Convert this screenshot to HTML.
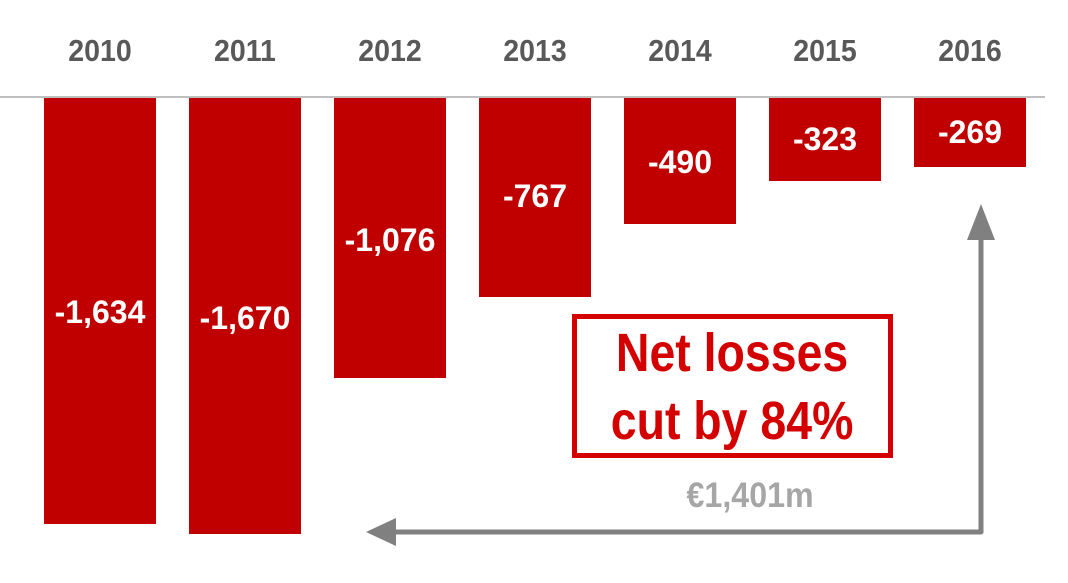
<!DOCTYPE html>
<html><head><meta charset="utf-8"><style>
body{margin:0;width:1068px;height:583px;background:#fff;overflow:hidden;font-family:"Liberation Sans Narrow","Liberation Sans",sans-serif;font-weight:bold}
.y{position:absolute;top:33px;width:140px;text-align:center;color:#595959;font-size:31px;transform:scaleX(0.92)}
.b{position:absolute;top:98px;width:112px;background:#c00000}
.v{position:absolute;width:140px;text-align:center;color:#fff;font-size:32px}
.t{display:inline-block;transform:scaleX(0.86)}
</style></head><body>
<div style="position:absolute;left:0;top:96px;width:1045px;height:2px;background:#bfbfbf"></div>
<div class="y" style="left:30px">2010</div><div class="y" style="left:175px">2011</div><div class="y" style="left:320px">2012</div><div class="y" style="left:465px">2013</div><div class="y" style="left:610px">2014</div><div class="y" style="left:755px">2015</div><div class="y" style="left:900px">2016</div>
<div class="b" style="left:44px;height:426px"></div>
<div class="b" style="left:189px;height:436px"></div>
<div class="b" style="left:334px;height:280px"></div>
<div class="b" style="left:479px;height:199px"></div>
<div class="b" style="left:624px;height:126px"></div>
<div class="b" style="left:769px;height:83px"></div>
<div class="b" style="left:914px;height:69px"></div>
<div class="v" style="left:30px;top:294px">-1,634</div>
<div class="v" style="left:175px;top:300px">-1,670</div>
<div class="v" style="left:320px;top:222px">-1,076</div>
<div class="v" style="left:465px;top:178px">-767</div>
<div class="v" style="left:610px;top:144px">-490</div>
<div class="v" style="left:755px;top:121px">-323</div>
<div class="v" style="left:900px;top:114px">-269</div>
<div style="position:absolute;left:572px;top:314px;width:311px;height:134px;border:5px solid #d40000;color:#d40000;font-size:54px;text-align:center;line-height:68px;white-space:nowrap"><span class="t">Net losses</span><br><span class="t">cut by 84%</span></div>
<div style="position:absolute;left:640px;top:476px;width:220px;text-align:center;color:#a6a6a6;font-size:35px"><span style="display:inline-block;transform:scaleX(0.92)">€1,401m</span></div>
<svg style="position:absolute;left:0;top:0" width="1068" height="583">
<polyline points="981,240 981,532 395,532" fill="none" stroke="#808080" stroke-width="5" stroke-linejoin="round"/>
<polygon points="981,204 967,240 995,240" fill="#808080"/>
<polygon points="366,532 396,518 396,546" fill="#808080"/>
</svg>
</body></html>
